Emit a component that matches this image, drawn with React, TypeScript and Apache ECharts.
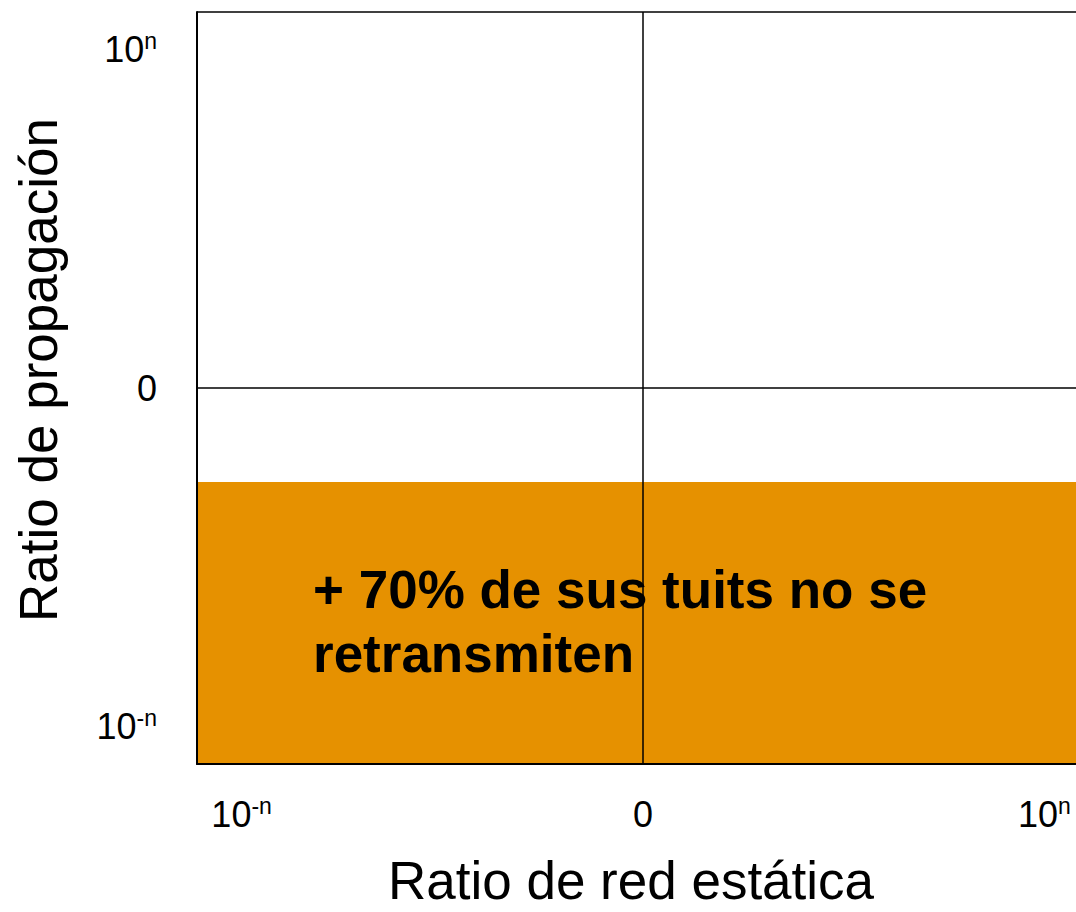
import React, { useEffect, useRef } from "react";
import * as echarts from "echarts";

// ---- data ----
const xTickValues = [-0.9, 0, 0.9];
const xTickLabels = ["10^-n", "0", "10^n"];
const yTickValues = [-0.9, 0, 0.9];
const yTickLabels = ["10^-n", "0", "10^n"];
const axisRange = [-1, 1];
const zoneX = [-1, 1];
const zoneY = [-1, -0.25];
const zoneText = ["+ 70% de sus tuits no se", "retransmiten"];
const xTitle = "Ratio de red estática";
const yTitle = "Ratio de propagación";

const FONT = "'Liberation Sans', Arial, sans-serif";

function richLabel(map: number[], labels: string[]) {
  return (v: number) => {
    const i = map.findIndex((m) => Math.abs(m - v) < 1e-6);
    if (i < 0) return "";
    const t = labels[i];
    const parts = t.split("^");
    if (parts.length === 2) return `{b|${parts[0]}}{s|${parts[1]}}`;
    return `{b|${t}}`;
  };
}

const rich = {
  b: { fontSize: 36, fontFamily: FONT, color: "#000", lineHeight: 40 },
  s: { fontSize: 23, fontFamily: FONT, color: "#000", verticalAlign: "top", lineHeight: 40, padding: [0, 0, 10, 0] },
};

export default function App() {
  const ref = useRef<HTMLDivElement>(null);
  useEffect(() => {
    if (!ref.current) return;
    const chart = echarts.init(ref.current, null, { renderer: "svg" });
    chart.setOption({
      animation: false,
      backgroundColor: "#fff",
      grid: { left: 197, top: 12, width: 892, height: 753 },
      xAxis: {
        type: "value",
        min: axisRange[0],
        max: axisRange[1],
        interval: 1,
        z: 5,
        name: xTitle,
        nameLocation: "middle",
        nameGap: 90,
        nameTextStyle: { fontSize: 53, fontFamily: FONT, color: "#000", padding: [0, 24, 0, 0] },
        axisLine: { show: true, onZero: false, lineStyle: { color: "#000", width: 2 } },
        axisTick: { show: false },
        splitLine: { show: true, lineStyle: { color: "#000", width: 1.5 } },
        axisLabel: {
          customValues: xTickValues,
          margin: 30,
          formatter: richLabel(xTickValues, xTickLabels),
          rich,
        },
      },
      yAxis: {
        type: "value",
        min: axisRange[0],
        max: axisRange[1],
        interval: 1,
        z: 5,
        name: yTitle,
        nameLocation: "middle",
        nameGap: 132,
        nameTextStyle: { fontSize: 53, fontFamily: FONT, color: "#000", padding: [0, 0, 0, 36] },
        axisLine: { show: true, onZero: false, lineStyle: { color: "#000", width: 2 } },
        axisTick: { show: false },
        splitLine: { show: true, lineStyle: { color: "#000", width: 1.5 } },
        axisLabel: {
          customValues: yTickValues,
          margin: 40,
          formatter: richLabel(yTickValues, yTickLabels),
          rich,
        },
      },
      series: [
        {
          type: "line",
          data: [],
          z: 1,
          markArea: {
            silent: true,
            itemStyle: { color: "#E69100", borderWidth: 0, opacity: 1 },
            label: { show: false },
            data: [[{ coord: [zoneX[0], zoneY[0]] }, { coord: [zoneX[1], zoneY[1]] }]],
          },
        },
      ],
      graphic: [
        {
          type: "text",
          left: 313,
          top: 557,
          z: 3,
          style: {
            text: zoneText.join("\n"),
            fontSize: 53,
            fontWeight: "bold",
            fontFamily: FONT,
            fill: "#000",
            lineHeight: 64,
          },
        },
      ],
    });
    return () => chart.dispose();
  }, []);
  return (
    <div style={{ position: "fixed", left: 0, top: 0, width: 1076, height: 912, overflow: "hidden" }}>
      <div ref={ref} style={{ width: 1100, height: 912 }} />
    </div>
  );
}
